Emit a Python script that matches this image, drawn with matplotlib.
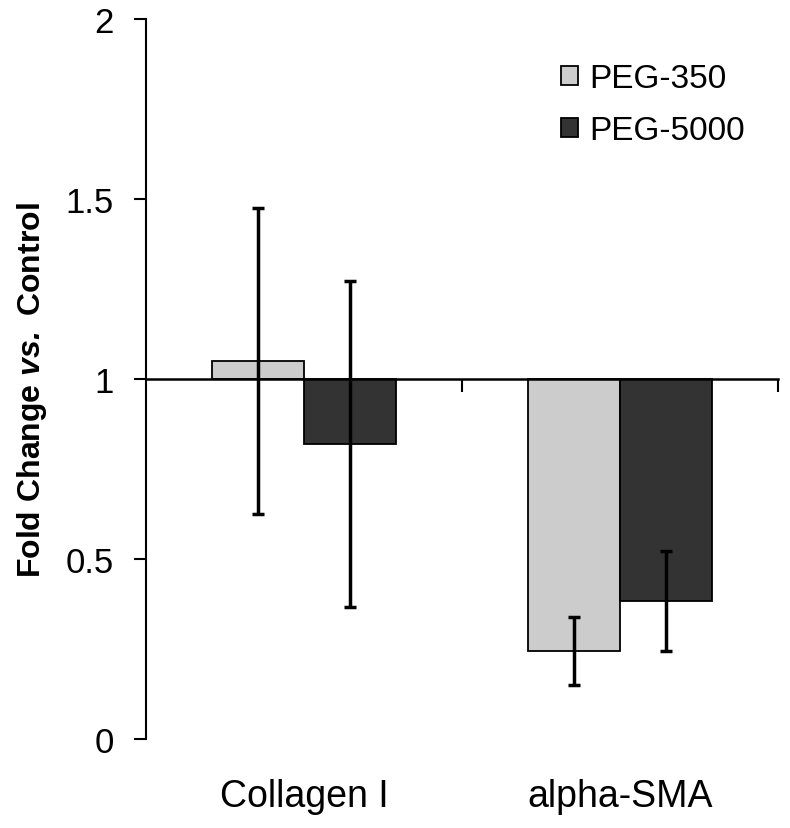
import numpy as np
import matplotlib.pyplot as plt

plt.rcParams['font.family'] = ['Liberation Sans', 'DejaVu Sans']
plt.rcParams['mathtext.fontset'] = 'custom'
plt.rcParams['mathtext.bfit'] = 'Liberation Sans:italic:bold'

# data
categories = ['Collagen I', 'alpha-SMA']
series = ['PEG-350', 'PEG-5000']
peg350 = [1.05, 0.244]
peg350_err = [0.425, 0.095]
peg5000 = [0.82, 0.383]
peg5000_err = [0.453, 0.139]
colors = ['#cccccc', '#333333']
baseline = 1.0

fig = plt.figure(figsize=(7.9, 8.29), dpi=100)
ax = fig.add_axes([0.1848, 0.1074, 0.8, 0.8685])

x = np.arange(len(categories))
w = 0.29

for vals, errs, off, col, name in [(peg350, peg350_err, -w / 2, colors[0], series[0]),
                                   (peg5000, peg5000_err, w / 2, colors[1], series[1])]:
    vals = np.array(vals)
    ax.bar(x + off, vals - baseline, w, bottom=baseline, color=col,
           edgecolor='black', linewidth=1.3, label=name, zorder=2)
    ax.errorbar(x + off, vals, yerr=errs, fmt='none', ecolor='black',
                elinewidth=2.5, capsize=4.5, capthick=2.5, zorder=3)

ax.set_xlim(-0.5, 1.5)
ax.set_ylim(0, 2)
ax.set_yticks([0, 0.5, 1, 1.5, 2])
ax.set_yticklabels(['0', '0.5', '1', '1.5', '2'])
ax.tick_params(axis='y', direction='out', length=9, width=1.5, labelsize=25, pad=14)

# x axis line sits at y = 1
ax.spines['bottom'].set_position(('data', baseline))
ax.spines['bottom'].set_linewidth(1.8)
ax.spines['bottom'].set_zorder(4)
ax.spines['left'].set_linewidth(1.5)
ax.spines['top'].set_visible(False)
ax.spines['right'].set_visible(False)
ax.set_xticks([0.5, 1.5])
ax.set_xticklabels(['', ''])
ax.tick_params(axis='x', direction='out', length=9, width=1.5)

sec = ax.secondary_xaxis(0)
sec.set_xticks(x, labels=categories)
sec.tick_params(length=0, pad=28, labelsize=27)
sec.spines['bottom'].set_visible(False)

ax.set_ylabel('Fold Change $\\mathbfit{vs.}$ Control', fontsize=23, fontweight='bold')
ax.yaxis.set_label_coords(-0.153, 0.486)

ax.legend(loc='upper right', bbox_to_anchor=(0.995, 0.98), frameon=False, fontsize=24,
          handlelength=0.5, handleheight=0.5, handletextpad=0.35, labelspacing=0.62)

fig.savefig('out.png', dpi=100)
